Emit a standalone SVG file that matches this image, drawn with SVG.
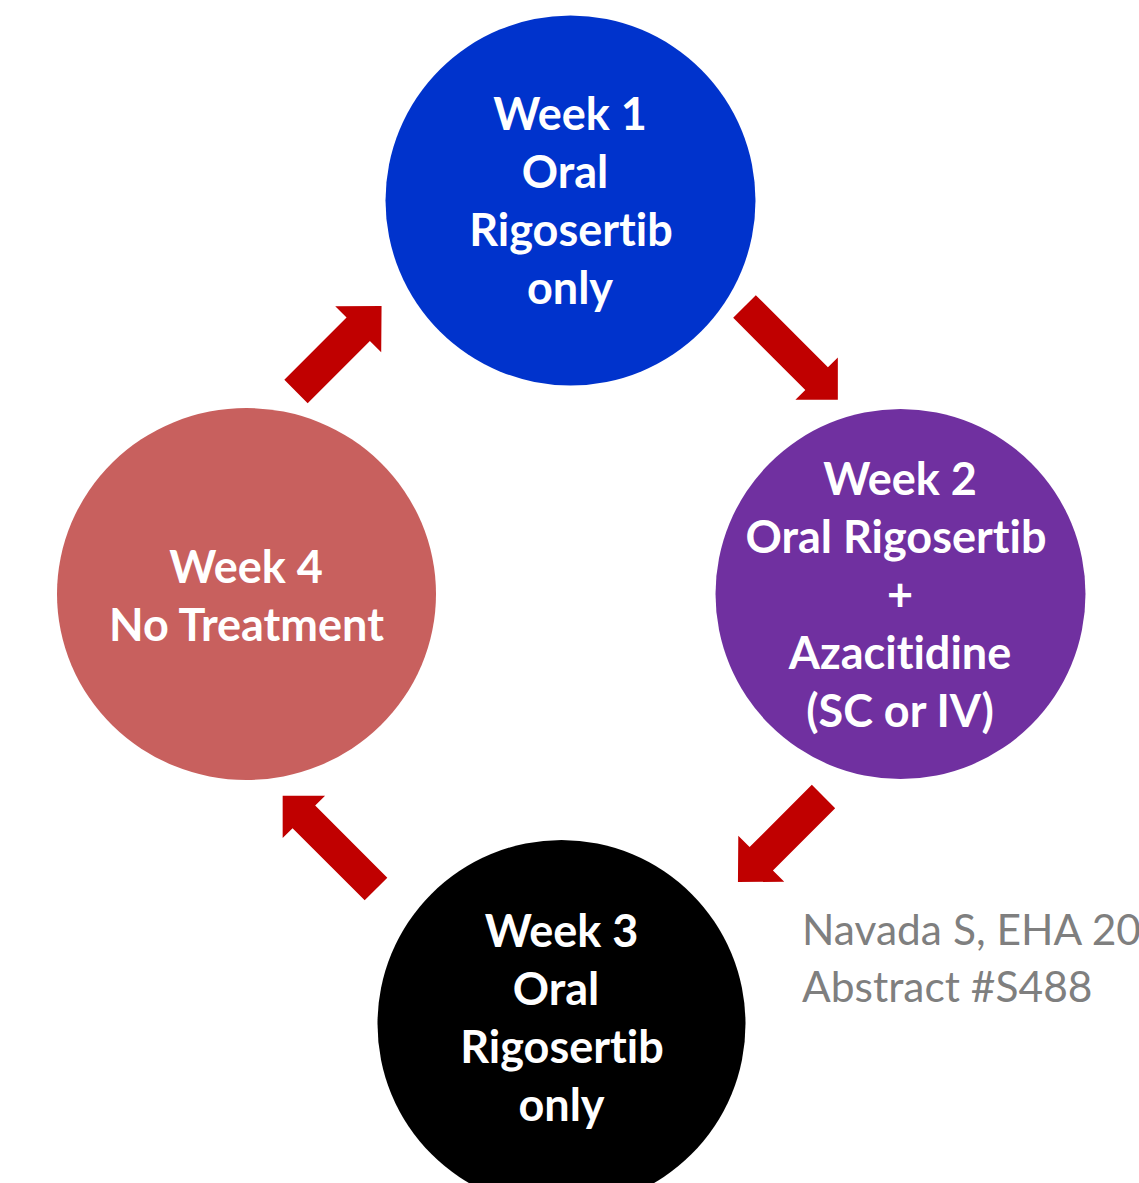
<svg xmlns="http://www.w3.org/2000/svg" xmlns:xlink="http://www.w3.org/1999/xlink" width="1139" height="1183" viewBox="0 0 1139 1183">
<style>
.lbl{font-family:Lato,"Open Sans","Liberation Sans",sans-serif;font-weight:bold;font-size:45px;fill:#FFFFFF;text-anchor:middle;font-variant-ligatures:none;font-feature-settings:"liga" 0}
.cite{font-family:Lato,"Open Sans","Liberation Sans",sans-serif;font-size:42.5px;fill:#7F7F7F;font-variant-ligatures:none}
.arr{fill:#C00000}
</style>
<defs>
<polygon id="arrowA" points="0,-16.5 88,-16.5 88,-32.5 121,0 88,32.5 88,16.5 0,16.5"/>
<polygon id="arrowB" points="0,-16 102,-16 102,-30 132,0 102,30 102,16 0,16"/>
</defs>
<rect width="1139" height="1183" fill="#FFFFFF"/>
<g id="week1">
<circle cx="570.5" cy="200.5" r="185" fill="#0033CC"/>
<text class="lbl" x="570" y="130">Week 1</text>
<text class="lbl" x="565" y="188">Oral</text>
<text class="lbl" x="571" y="246">Rigosertib</text>
<text class="lbl" x="570" y="304">only</text>
</g>
<g id="week2">
<circle cx="900.5" cy="594" r="185" fill="#7030A0"/>
<text class="lbl" x="900" y="495">Week 2</text>
<text class="lbl" x="896" y="553">Oral Rigosertib</text>
<text class="lbl" x="900" y="611">+</text>
<text class="lbl" x="900" y="669">Azacitidine</text>
<text class="lbl" x="900" y="727">(SC or IV)</text>
</g>
<g id="week3">
<circle cx="561.5" cy="1024" r="184" fill="#000000"/>
<text class="lbl" x="561.5" y="947">Week 3</text>
<text class="lbl" x="556" y="1005">Oral</text>
<text class="lbl" x="562" y="1063">Rigosertib</text>
<text class="lbl" x="561.5" y="1121">only</text>
</g>
<g id="week4">
<ellipse cx="246.5" cy="594" rx="189.5" ry="186" fill="#C8605E"/>
<text class="lbl" x="246" y="583">Week 4</text>
<text class="lbl" x="246.5" y="641">No Treatment</text>
</g>
<g id="connectors" class="arr">
<use xlink:href="#arrowA" transform="translate(296,391.5) rotate(-45)"/>
<use xlink:href="#arrowB" transform="translate(744.5,306.5) rotate(45)"/>
<use xlink:href="#arrowA" transform="translate(823.5,796.5) rotate(135)"/>
<use xlink:href="#arrowB" transform="translate(376,889) rotate(-135)"/>
</g>
<g id="citation">
<text class="cite" x="802" y="945">Navada S, EHA 20</text>
<text class="cite" x="802" y="1002">Abstract #S488</text>
</g>
</svg>
